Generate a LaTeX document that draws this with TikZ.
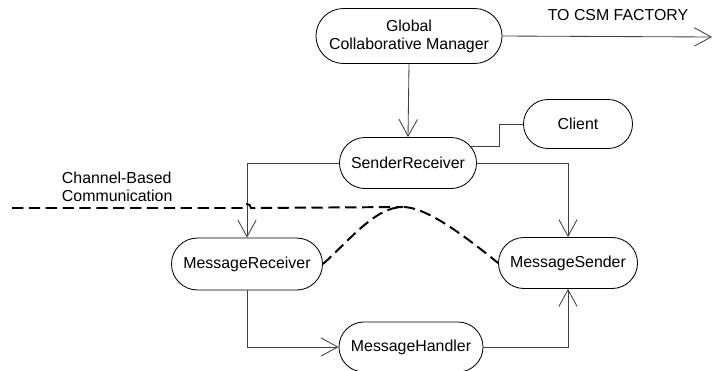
\documentclass[tikz,border=0pt]{standalone}
\usepackage{fontspec}
\setmainfont{Liberation Sans}
\usetikzlibrary{arrows.meta,shapes.misc}

\begin{document}
\begin{tikzpicture}[x=0.025cm, y=-0.025cm,
    >={Straight Barb[length=4.2mm, width=4.6mm]},
    every node/.style={font=\fontsize{11.3}{12.8}\selectfont},
    block/.style={draw, line width=0.6pt, rounded rectangle, inner sep=0pt, align=center},
    flow/.style={->, black!75, line width=0.6pt},
    channel/.style={line width=1.4pt, dash pattern=on 8pt off 4pt}]
  \useasboundingbox (0,0) rectangle (714,370);
  % ---------- components ----------
  \node[block, minimum width=4.65cm, minimum height=1.375cm] (gcm) at (409,36) {Global\\Collaborative Manager};
  \node[block, minimum width=3.425cm, minimum height=1.275cm] (sr) at (408,163) {SenderReceiver};
  \node[block, minimum width=2.725cm, minimum height=1.225cm] (client) at (578,124) {Client};
  \node[block, minimum width=3.775cm, minimum height=1.3cm] (mr) at (247,264) {MessageReceiver};
  \node[block, minimum width=3.475cm, minimum height=1.275cm] (ms) at (568,263) {MessageSender};
  \node[block, minimum width=3.6cm, minimum height=1.25cm] (mh) at (411,347) {MessageHandler};
  % ---------- outside world ----------
  \coordinate (factory) at (712,37);
  \node (factorylabel) at (618,15) {TO CSM FACTORY};
  \node[anchor=west, align=left] (channellabel) at (57,187) {Channel-Based\\Communication};
  % ---------- message flow ----------
  \draw[flow] (gcm.east) -- (factory);
  \draw[flow] (gcm.south) -- (sr.north);
  \draw[black!75, line width=0.6pt] (sr.15) -- ++(29,0) |- (client.west);
  \draw[flow] (sr.west) -| (mr.north);
  \draw[flow] (sr.east) -| (ms.north);
  \draw[flow] (mr.south) |- (mh.west);
  \draw[flow] (mh.east) -| (ms.south);
  % ---------- channel boundary ----------
  \draw[channel] (12,208) -- (243,208) arc[start angle=180, end angle=360, radius=4] -- (403,207);
  \draw[channel] (mr.east) .. controls (350,240) and (375,207) .. (403,207)
    .. controls (425,207) and (460,232) .. (ms.west);
\end{tikzpicture}
\end{document}
